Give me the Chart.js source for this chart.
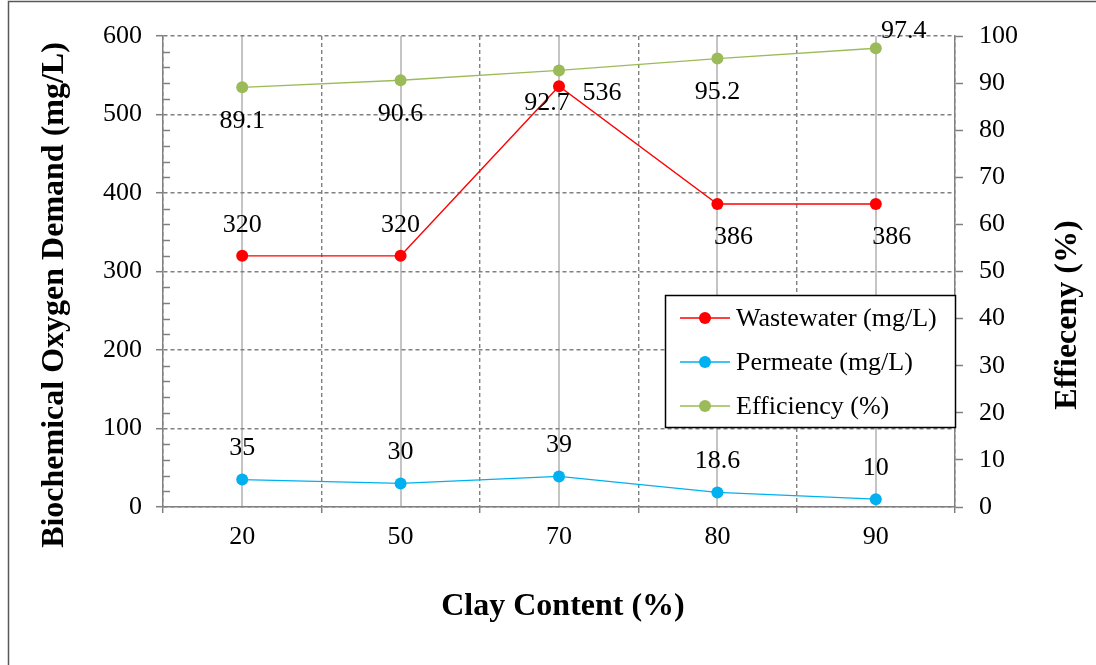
<!DOCTYPE html>
<html>
<head>
<meta charset="utf-8">
<title>Biochemical Oxygen Demand</title>
<script src="https://cdn.jsdelivr.net/npm/chart.js@4.4.1/dist/chart.umd.min.js"></script>
<style>
  html, body { margin: 0; padding: 0; background: #fff; }
  #caixa { position: relative; width: 1096px; height: 665px; }
</style>
</head>
<body>
<div id="caixa"><canvas id="grafico"></canvas></div>
<script>
// dados
var categorias = ["20", "50", "70", "80", "90"];
var wastewater = [320, 320, 536, 386, 386];
var permeate = [35, 30, 39, 18.6, 10];
var efficiency = [89.1, 90.6, 92.7, 95.2, 97.4];
var ticksBod = [0, 100, 200, 300, 400, 500, 600];
var ticksEfic = [0, 10, 20, 30, 40, 50, 60, 70, 80, 90, 100];

// onde fica cada rotulo em relacao ao ponto
var posWaste = ["above", "above", "right", "belowright", "belowright"];
var posPerm = ["above", "above", "above", "above", "above"];
var posEfic = ["below", "below", "belowleft", "below", "aboveright"];
var desloc = {
    above: [0, -31],
    below: [0, 34],
    right: [43, 7],
    belowright: [16, 33],
    belowleft: [-12, 33],
    aboveright: [28, -17]
};

var FONTE = '"Liberation Serif", "Times New Roman", serif';
var CINZA = "#808080";

Chart.defaults.font.family = FONTE;
Chart.defaults.font.size = 26;
Chart.defaults.color = "#000";

var extras = {
    id: "extras",
    afterDatasetsDraw: function (chart) {
        var ctx = chart.ctx;
        var posicoes = [posWaste, posPerm, posEfic];
        ctx.save();
        ctx.font = "26px " + FONTE;
        ctx.fillStyle = "#000";
        ctx.textAlign = "center";
        ctx.textBaseline = "middle";
        chart.data.datasets.forEach(function (ds, i) {
            var meta = chart.getDatasetMeta(i);
            meta.data.forEach(function (p, j) {
                var d = desloc[posicoes[i][j]];
                ctx.fillText(String(ds.data[j]), p.x + d[0], p.y + d[1]);
            });
        });
        ctx.restore();
    },
    afterDraw: function (chart) {
        var ctx = chart.ctx;
        var area = chart.chartArea;
        var esq = chart.scales.y;
        ctx.save();

        // tracinhos menores no eixo esquerdo
        ctx.strokeStyle = CINZA;
        ctx.lineWidth = 1.5;
        for (var v = 20; v < 600; v += 20) {
            if (v % 100 === 0) continue;
            var y = Math.round(esq.getPixelForValue(v)) + 0.5;
            ctx.beginPath();
            ctx.moveTo(area.left, y);
            ctx.lineTo(area.left + 7, y);
            ctx.stroke();
        }

        // legenda
        var lx = 665.5, ly = 295.5, lw = 290, lh = 132;
        ctx.fillStyle = "#fff";
        ctx.fillRect(lx, ly, lw, lh);
        ctx.strokeStyle = "#000";
        ctx.lineWidth = 1.5;
        ctx.strokeRect(lx, ly, lw, lh);
        ctx.font = "26px " + FONTE;
        ctx.textAlign = "left";
        ctx.textBaseline = "middle";
        chart.data.datasets.forEach(function (ds, i) {
            var yy = 318 + i * 44;
            ctx.strokeStyle = ds.borderColor;
            ctx.lineWidth = 1.5;
            ctx.beginPath();
            ctx.moveTo(680, yy);
            ctx.lineTo(730, yy);
            ctx.stroke();
            ctx.fillStyle = ds.borderColor;
            ctx.beginPath();
            ctx.arc(705, yy, 6, 0, Math.PI * 2);
            ctx.fill();
            ctx.fillStyle = "#000";
            ctx.fillText(ds.label, 736, yy + 1);
        });

        // titulos dos eixos
        ctx.fillStyle = "#000";
        ctx.font = "bold 32px " + FONTE;
        ctx.textAlign = "center";
        ctx.textBaseline = "middle";
        ctx.fillText("Clay Content (%)", 563, 607);

        ctx.save();
        ctx.translate(55, 295);
        ctx.rotate(-Math.PI / 2);
        ctx.fillText("Biochemical Oxygen Demand (mg/L)", 0, 0);
        ctx.restore();

        ctx.save();
        ctx.translate(1068, 315);
        ctx.rotate(-Math.PI / 2);
        ctx.fillText("Effieceny (%)", 0, 0);
        ctx.restore();

        // moldura
        ctx.strokeStyle = "#595959";
        ctx.lineWidth = 1.5;
        ctx.beginPath();
        ctx.moveTo(8.5, 665);
        ctx.lineTo(8.5, 1.5);
        ctx.lineTo(1096, 1.5);
        ctx.stroke();

        ctx.restore();
    }
};

new Chart(document.getElementById("grafico"), {
    type: "line",
    data: {
        labels: categorias,
        datasets: [
            {
                label: "Wastewater (mg/L)",
                data: wastewater,
                borderColor: "#FF0000",
                backgroundColor: "#FF0000",
                yAxisID: "y",
                xAxisID: "x"
            }, {
                label: "Permeate (mg/L)",
                data: permeate,
                borderColor: "#00B0F0",
                backgroundColor: "#00B0F0",
                yAxisID: "y",
                xAxisID: "x"
            }, {
                label: "Efficiency (%)",
                data: efficiency,
                borderColor: "#9BBB59",
                backgroundColor: "#9BBB59",
                yAxisID: "y1",
                xAxisID: "x"
            }
        ]
    },
    options: {
        responsive: true,
        maintainAspectRatio: false,
        animation: false,
        layout: { padding: { top: 36, left: 0, right: 0, bottom: 0 } },
        elements: {
            line: { tension: 0, borderWidth: 1.3, fill: false },
            point: { radius: 6, borderWidth: 0, hoverRadius: 6 }
        },
        plugins: {
            legend: { display: false },
            tooltip: { enabled: false }
        },
        scales: {
            x: {
                type: "category",
                position: "bottom",
                offset: true,
                grid: {
                    offset: true,
                    color: CINZA,
                    lineWidth: 1.4,
                    tickLength: 6,
                    tickColor: CINZA,
                    tickWidth: 1.5,
                    tickBorderDash: []
                },
                border: { color: CINZA, width: 1.5, dash: [4, 3] },
                ticks: { padding: 9 },
                afterFit: function (s) { s.height = 158; }
            },
            x2: {
                type: "category",
                position: "bottom",
                offset: true,
                grid: { offset: false, color: "#C4C4C4", lineWidth: 2, drawTicks: false },
                border: { display: false },
                ticks: { display: false },
                afterFit: function (s) { s.height = 0; }
            },
            y: {
                type: "linear",
                position: "left",
                min: 0,
                max: 600,
                afterBuildTicks: function (s) {
                    s.ticks = ticksBod.map(function (v) { return { value: v }; });
                },
                ticks: { padding: 14 },
                grid: {
                    color: CINZA,
                    lineWidth: 1.4,
                    tickLength: 7,
                    tickColor: CINZA,
                    tickWidth: 1.5,
                    tickBorderDash: []
                },
                border: { color: CINZA, width: 1.5, dash: [4, 3] },
                afterFit: function (s) { s.width = 163; }
            },
            y1: {
                type: "linear",
                position: "right",
                min: 0,
                max: 100,
                afterBuildTicks: function (s) {
                    s.ticks = ticksEfic.map(function (v) { return { value: v }; });
                },
                ticks: { padding: 16 },
                grid: {
                    drawOnChartArea: false,
                    tickLength: 8,
                    tickColor: CINZA,
                    tickWidth: 1.5
                },
                border: { color: CINZA, width: 1.5 },
                afterFit: function (s) { s.width = 141; }
            }
        }
    },
    plugins: [extras]
});
</script>
</body>
</html>
